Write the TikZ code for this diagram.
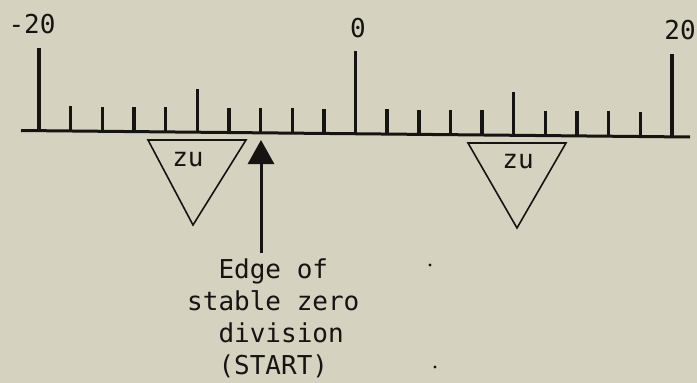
\documentclass[tikz,border=0pt]{standalone}
\usepackage{fontspec}
\setmonofont{DejaVu Sans Mono}
\usetikzlibrary{arrows.meta,calc}
\definecolor{paper}{RGB}{214,210,192}
\definecolor{ink}{RGB}{22,20,18}
\begin{document}
\begin{tikzpicture}[x=1pt,y=-1pt,
  lbl/.style={font=\ttfamily\fontsize{26}{32}\selectfont, inner sep=0pt, text=ink},
  tickmark/.style={line width=3.4pt, draw=ink},
  tri/.style={line width=1.6pt, draw=ink, line join=miter}]
\fill[paper] (0,0) rectangle (697,383);
\useasboundingbox (0,0) rectangle (697,383);
% scale line
\draw[line width=3pt, draw=ink] (21,130.5) -- (690,137);
\foreach \i in {0,...,20}{
  \pgfmathsetmacro\xx{39+\i*31.65}
  \pgfmathsetmacro\yb{131+\i*0.3}
  \pgfmathsetmacro\len{ifthenelse(mod(\i,10)==0,83,ifthenelse(mod(\i,5)==0,44,25))}
  \draw[tickmark] (\xx,\yb) -- ++(0,-\len);
}
% scale numbers
\node[lbl] (m20) at (32,24) {-20};
\node[lbl] (zero) at (358,28) {0};
\node[lbl] (p20) at (680,30) {20};
% zu triangles
\draw[tri] (148,140) -- (246,140) -- (193,225) -- cycle;
\node[lbl] (zu1) at (188,160) {zu};
\draw[tri] (468,143) -- (566,143) -- (517,228) -- cycle;
\node[lbl] (zu2) at (518,162) {zu};
% label and arrow
\node[lbl, align=left, anchor=north west] (lab) at (187,259)
  {\phantom{xx}Edge of\\stable zero\\\phantom{xx}division\\\phantom{xx}(START)};
\coordinate (tip) at (261,140);
\draw[line width=3pt, draw=ink, -{Triangle[width=26pt,length=24pt]}]
  ($(tip |- lab.north)+(0,-6)$) -- (tip);
% specks
\fill[ink] (430,265) circle (1.6);
\fill[ink] (435,367) circle (1.6);
\end{tikzpicture}
\end{document}
